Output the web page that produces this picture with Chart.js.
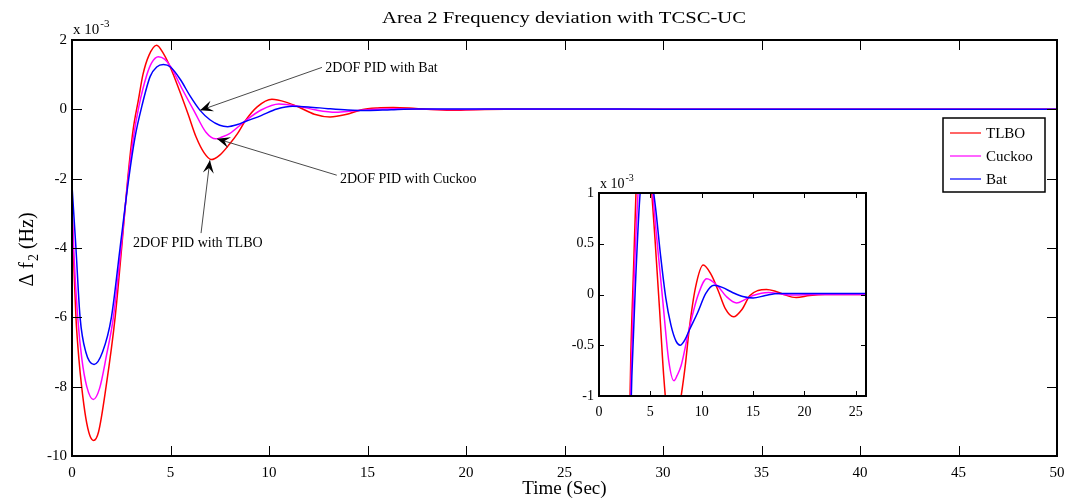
<!DOCTYPE html>
<html>
<head>
<meta charset="utf-8">
<title>Area 2 Frequency deviation with TCSC-UC</title>
<script src="https://cdn.jsdelivr.net/npm/chart.js@4.4.1/dist/chart.umd.min.js"></script>
<style>
  html, body { margin: 0; padding: 0; background: #fff; }
  #wrap { position: relative; width: 1067px; height: 502px; background: #fff; }
  #mainChart { position: absolute; left: 0; top: 0; }
  #insetChart { position: absolute; left: 540px; top: 170px; }
</style>
</head>
<body>
<div id="wrap">
  <canvas id="mainChart" width="1067" height="502"></canvas>
  <canvas id="insetChart" width="340" height="252"></canvas>
</div>
<script>
// time (sec) and delta f2 (x 10^-3 Hz)
const tTLBO = [0, 0.1, 0.2, 0.35, 0.49, 0.7, 0.9, 1.1, 1.35, 1.73, 2.19, 2.52, 2.83, 3.1, 3.38, 3.6, 3.9, 4.3, 4.65, 5.0, 5.45, 5.9, 6.3, 6.7, 7.07, 7.5, 8.0, 8.4, 8.8, 9.4, 10.15, 10.9, 11.6, 12.3, 13.1, 13.9, 14.7, 15.5, 16.3, 17.1, 18.0, 19.2, 20.5, 22, 30, 40, 50];
const fTLBO = [-3.0, -4.6, -6.0, -7.2, -8.0, -8.9, -9.4, -9.55, -9.3, -8.0, -6.0, -4.0, -2.0, -0.6, 0.3, 1.0, 1.55, 1.85, 1.6, 1.2, 0.55, -0.15, -0.8, -1.25, -1.45, -1.32, -1.0, -0.7, -0.33, 0.07, 0.29, 0.2, 0.04, -0.14, -0.22, -0.15, -0.01, 0.04, 0.05, 0.035, 0.0, -0.03, -0.01, 0, 0, 0, 0];

const tCuckoo = [0, 0.1, 0.29, 0.5, 0.75, 1.08, 1.4, 1.75, 2.1, 2.49, 2.85, 3.12, 3.4, 3.8, 4.05, 4.38, 4.7, 5.0, 5.6, 6.2, 6.8, 7.3, 7.6, 8.0, 8.78, 9.6, 10.5, 11.5, 12.4, 13.4, 14.2, 15.0, 16.5, 18, 19, 21, 30, 50];
const fCuckoo = [-2.7, -4.2, -6.0, -7.2, -8.0, -8.37, -8.05, -7.1, -6.0, -4.0, -2.0, -0.8, 0.1, 1.0, 1.35, 1.52, 1.45, 1.24, 0.58, -0.05, -0.66, -0.85, -0.8, -0.7, -0.34, -0.02, 0.155, 0.09, -0.02, -0.083, -0.05, -0.01, 0.02, 0.0, -0.005, 0, 0, 0];

const tBat = [0, 0.2, 0.41, 0.7, 1.12, 1.55, 2.0, 2.44, 2.88, 3.2, 3.55, 3.97, 4.3, 4.64, 5.0, 5.5, 6.0, 6.5, 7.0, 7.5, 7.9, 8.4, 8.8, 9.6, 10.4, 11.2, 12.0, 13.0, 14.0, 15.0, 16.2, 17.5, 20, 25, 30, 50];
const fBat = [-2.2, -4.0, -6.0, -7.0, -7.36, -7.0, -6.0, -4.0, -2.0, -0.8, 0.1, 0.95, 1.22, 1.29, 1.22, 0.86, 0.38, -0.03, -0.3, -0.46, -0.5, -0.44, -0.35, -0.18, 0.01, 0.09, 0.07, 0.02, -0.02, -0.035, -0.01, 0.01, 0.01, 0.01, 0.005, 0];

const seriesNames = ['TLBO', 'Cuckoo', 'Bat'];
const seriesColors = ['#ff0000', '#ff00ff', '#0000ff'];

const xTicksMain = [0, 5, 10, 15, 20, 25, 30, 35, 40, 45, 50];
const yTicksMain = [-10, -8, -6, -4, -2, 0, 2];
const xTicksInset = [0, 5, 10, 15, 20, 25];
const yTicksInset = [-1, -0.5, 0, 0.5, 1];

// annotation text position, arrow tail and arrow tip, in (sec, x10^-3 Hz)
const noteTexts = ['2DOF PID with Bat', '2DOF PID with Cuckoo', '2DOF PID with TLBO'];
const noteAt = [[12.86, 1.18], [13.6, -2.02], [3.1, -3.87]];
const noteFrom = [[12.69, 1.21], [13.44, -1.9], [6.55, -3.57]];
const noteTo = [[6.5, -0.03], [7.36, -0.85], [7.0, -1.47]];

const SERIF = '"Liberation Serif", "Times New Roman", serif';

function pts(t, f) {
  return t.map((x, i) => ({ x: x, y: f[i] }));
}

function makeSets() {
  const all = [[tTLBO, fTLBO], [tCuckoo, fCuckoo], [tBat, fBat]];
  return all.map((s, i) => ({
    label: seriesNames[i],
    data: pts(s[0], s[1]),
    borderColor: seriesColors[i],
    backgroundColor: seriesColors[i],
    borderWidth: 1.5,
    pointRadius: 0,
    fill: false,
    cubicInterpolationMode: 'monotone',
    order: 2 - i   // Bat drawn on top like the original
  }));
}

// box around the axes with tick marks pointing inward on all four sides
const framePlugin = {
  id: 'frame',
  afterDraw(chart, args, opts) {
    const { ctx, chartArea: a, scales } = chart;
    const len = opts.tick || 10;
    ctx.save();
    ctx.strokeStyle = '#000';
    ctx.lineWidth = 1;
    ctx.beginPath();
    scales.x.ticks.forEach(tk => {
      const px = Math.round(scales.x.getPixelForValue(tk.value)) + 0.5;
      ctx.moveTo(px, a.bottom); ctx.lineTo(px, a.bottom - len);
      ctx.moveTo(px, a.top); ctx.lineTo(px, a.top + len);
    });
    scales.y.ticks.forEach(tk => {
      const py = Math.round(scales.y.getPixelForValue(tk.value)) + 0.5;
      ctx.moveTo(a.left, py); ctx.lineTo(a.left + len, py);
      ctx.moveTo(a.right, py); ctx.lineTo(a.right - len, py);
    });
    ctx.stroke();
    ctx.lineWidth = opts.width || 2;
    ctx.strokeRect(a.left, a.top, a.right - a.left, a.bottom - a.top);
    // "x 10^-3" multiplier above the y axis
    ctx.fillStyle = '#000';
    ctx.textBaseline = 'alphabetic';
    ctx.textAlign = 'left';
    ctx.font = opts.expSize + 'px ' + SERIF;
    ctx.fillText('x 10', a.left + 1, a.top - opts.expGap);
    const w = ctx.measureText('x 10').width;
    ctx.font = Math.round(opts.expSize * 0.72) + 'px ' + SERIF;
    ctx.fillText('-3', a.left + 1 + w + 1, a.top - opts.expGap - opts.expSize * 0.5);
    ctx.restore();
  }
};

// title, y label, legend and arrows of the main plot
const decorPlugin = {
  id: 'decor',
  afterDraw(chart) {
    const { ctx, scales } = chart;
    const xs = scales.x, ys = scales.y;
    ctx.save();
    ctx.fillStyle = '#000';

    // title (the original figure is stretched sideways)
    const title = 'Area 2 Frequency deviation with TCSC-UC';
    ctx.font = '16px ' + SERIF;
    ctx.save();
    ctx.translate(564, 23);
    ctx.scale(1.29, 1);
    ctx.textAlign = 'center';
    ctx.textBaseline = 'alphabetic';
    ctx.fillText(title, 0, 0);
    ctx.restore();

    // y label: delta f with subscript 2
    ctx.save();
    ctx.translate(33, 250);
    ctx.rotate(-Math.PI / 2);
    ctx.textBaseline = 'alphabetic';
    ctx.textAlign = 'left';
    const big = '20px ' + SERIF, small = '14px ' + SERIF;
    ctx.font = big;
    const p1 = '\u0394 f', p3 = ' (Hz)';
    const w1 = ctx.measureText(p1).width, w3 = ctx.measureText(p3).width;
    ctx.font = small;
    const w2 = ctx.measureText('2').width;
    let x0 = -(w1 + w2 + w3) / 2;
    ctx.font = big; ctx.fillText(p1, x0, 0);
    ctx.font = small; ctx.fillText('2', x0 + w1 + 1, 5);
    ctx.font = big; ctx.fillText(p3, x0 + w1 + w2 + 1, 0);
    ctx.restore();

    // arrows
    for (let i = 0; i < noteTexts.length; i++) {
      const x1 = xs.getPixelForValue(noteFrom[i][0]), y1 = ys.getPixelForValue(noteFrom[i][1]);
      const x2 = xs.getPixelForValue(noteTo[i][0]), y2 = ys.getPixelForValue(noteTo[i][1]);
      ctx.strokeStyle = '#4a4a4a';
      ctx.lineWidth = 1;
      ctx.beginPath(); ctx.moveTo(x1, y1); ctx.lineTo(x2, y2); ctx.stroke();
      const ang = Math.atan2(y2 - y1, x2 - x1);
      const L = 13, W = 5.5;
      ctx.save();
      ctx.translate(x2, y2);
      ctx.rotate(ang);
      ctx.fillStyle = '#000';
      ctx.beginPath();
      ctx.moveTo(0, 0);
      ctx.lineTo(-L, -W);
      ctx.lineTo(-L * 0.6, 0);
      ctx.lineTo(-L, W);
      ctx.closePath();
      ctx.fill();
      ctx.restore();
      ctx.font = '14px ' + SERIF;
      ctx.textAlign = 'left';
      ctx.textBaseline = 'middle';
      ctx.fillStyle = '#000';
      ctx.fillText(noteTexts[i], xs.getPixelForValue(noteAt[i][0]), ys.getPixelForValue(noteAt[i][1]));
    }

    // legend box
    const lx = 943, ly = 118, lw = 102, lh = 74;
    ctx.fillStyle = '#fff';
    ctx.fillRect(lx, ly, lw, lh);
    ctx.strokeStyle = '#000';
    ctx.lineWidth = 1.5;
    ctx.strokeRect(lx, ly, lw, lh);
    ctx.font = '15px ' + SERIF;
    ctx.textAlign = 'left';
    ctx.textBaseline = 'middle';
    seriesNames.forEach((name, i) => {
      const yy = ly + 15 + i * 23;
      ctx.strokeStyle = seriesColors[i];
      ctx.lineWidth = 1.2;
      ctx.beginPath(); ctx.moveTo(lx + 7, yy); ctx.lineTo(lx + 38, yy); ctx.stroke();
      ctx.fillStyle = '#000';
      ctx.fillText(name, lx + 43, yy + 1);
    });
    ctx.restore();
  }
};

const whiteBg = {
  id: 'whiteBg',
  beforeDraw(chart) {
    const ctx = chart.ctx;
    ctx.save();
    ctx.fillStyle = '#fff';
    ctx.fillRect(0, 0, chart.width, chart.height);
    ctx.restore();
  }
};

function axis(ticksArr, min, max, size, pad, fit, extra) {
  return Object.assign({
    type: 'linear',
    min: min,
    max: max,
    grid: { display: false, drawTicks: false },
    border: { display: false },
    afterBuildTicks: s => { s.ticks = ticksArr.map(v => ({ value: v })); },
    afterFit: s => {
      fit(s);
      // no extra room for overhanging end labels
      s.paddingLeft = 0; s.paddingRight = 0; s.paddingTop = 0; s.paddingBottom = 0;
    },
    ticks: {
      color: '#000',
      font: { family: SERIF, size: size },
      padding: pad,
      autoSkip: false,
      maxRotation: 0,
      callback: v => String(v)
    }
  }, extra || {});
}

new Chart(document.getElementById('mainChart'), {
  type: 'line',
  data: { datasets: makeSets() },
  options: {
    responsive: false,
    animation: false,
    devicePixelRatio: 1,
    layout: { padding: { left: 0, top: 40, right: 10, bottom: 0 } },
    plugins: {
      legend: { display: false },
      tooltip: { enabled: false },
      frame: { tick: 10, width: 2, expSize: 15, expGap: 6 }
    },
    scales: {
      x: axis(xTicksMain, 0, 50, 15, 8, s => { s.height = 46; }, {
        title: { display: true, text: 'Time (Sec)', color: '#000', font: { family: SERIF, size: 19 }, padding: { top: 0, bottom: 2 } }
      }),
      y: axis(yTicksMain, -10, 2, 15, 5, s => { s.width = 72; })
    }
  },
  plugins: [whiteBg, framePlugin, decorPlugin]
});

new Chart(document.getElementById('insetChart'), {
  type: 'line',
  data: { datasets: makeSets() },
  options: {
    responsive: false,
    animation: false,
    devicePixelRatio: 1,
    layout: { padding: { left: 0, top: 23, right: 14, bottom: 0 } },
    plugins: {
      legend: { display: false },
      tooltip: { enabled: false },
      frame: { tick: 5, width: 2, expSize: 14, expGap: 5 }
    },
    scales: {
      x: axis(xTicksInset, 0, 26, 14, 8, s => { s.height = 26; }),
      y: axis(yTicksInset, -1, 1, 14, 5, s => { s.width = 59; })
    }
  },
  plugins: [whiteBg, framePlugin]
});
</script>
</body>
</html>
